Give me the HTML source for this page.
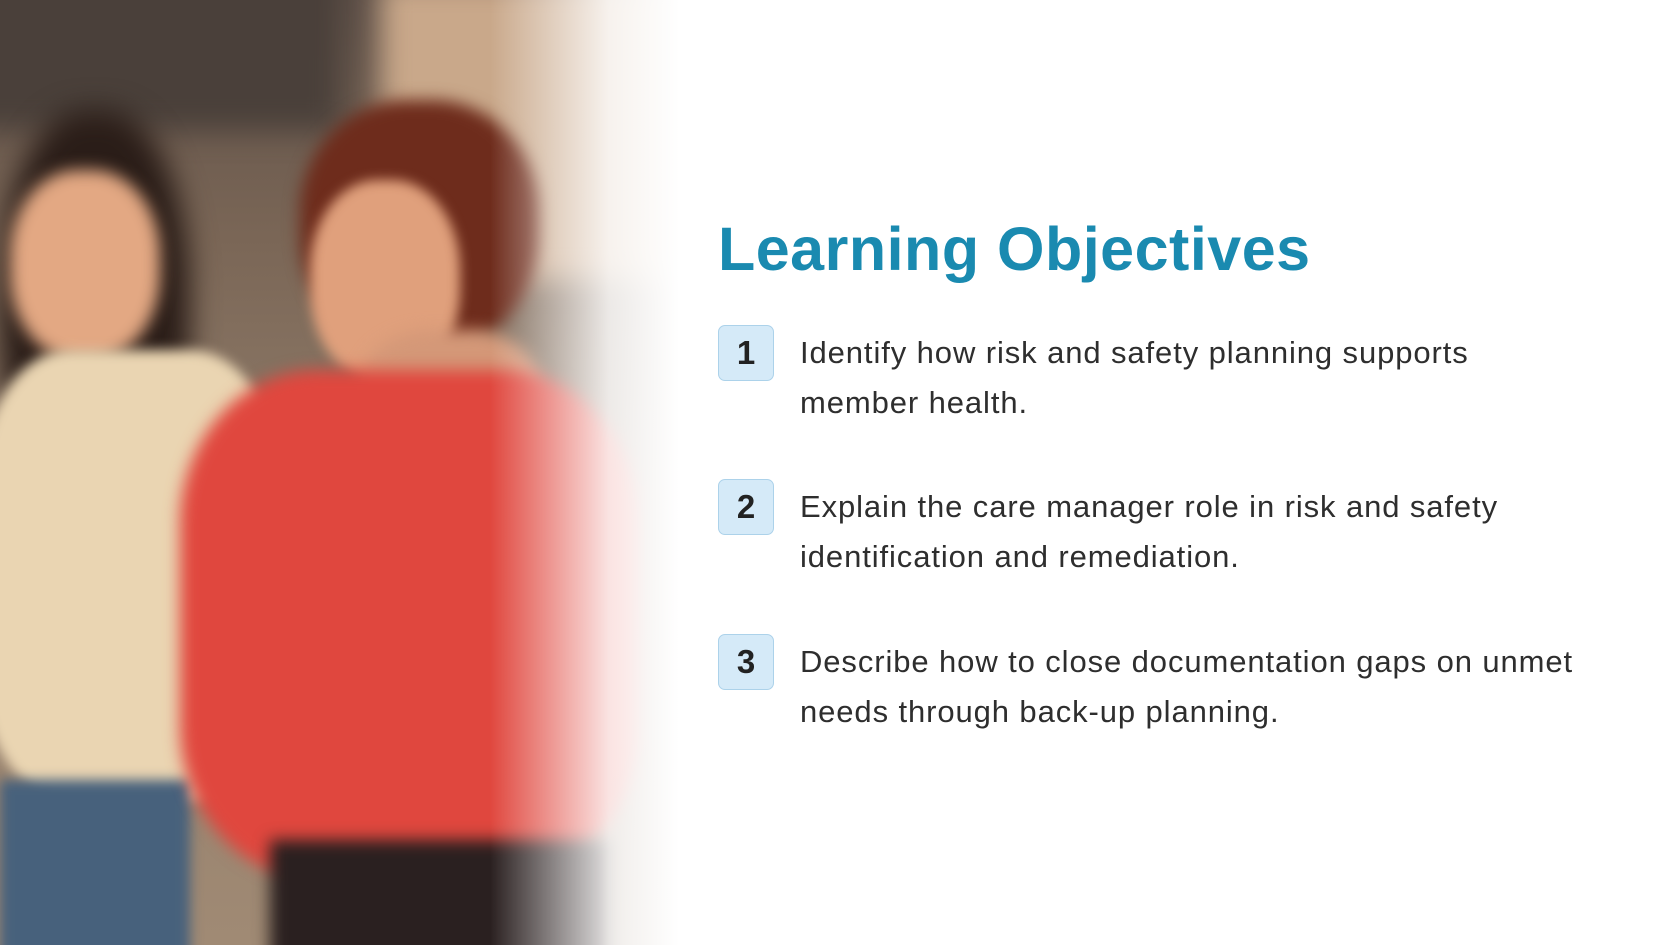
<!DOCTYPE html>
<html><head><meta charset="utf-8"><style>
html,body{margin:0;padding:0;width:1680px;height:945px;overflow:hidden;background:#fff;font-family:"Liberation Sans",sans-serif}
#photo{position:absolute;left:0;top:0;width:700px;height:945px;overflow:hidden;background:linear-gradient(180deg,#5e5048 0%,#7a6656 25%,#8e7a68 50%,#a08a74 100%)}
.b{position:absolute;filter:blur(14px)}
#fade{position:absolute;left:0;top:0;width:700px;height:945px;background:linear-gradient(90deg,rgba(255,255,255,0) 0%,rgba(255,255,255,0) 70%,rgba(255,255,255,.85) 87%,#fff 97%)}
h1{position:absolute;left:718px;top:214px;margin:0;font-size:61px;font-weight:bold;color:#1a8ab0;letter-spacing:0.5px}
.badge{position:absolute;left:718px;width:56px;height:56px;box-sizing:border-box;border:1.5px solid #acd2ea;background:#d5eaf8;border-radius:7px;font-size:33px;font-weight:bold;color:#222;text-align:center;line-height:54px}
.txt{position:absolute;left:800px;font-size:31px;line-height:50px;color:#2e2e2e;width:860px;letter-spacing:0.9px}
</style></head><body>
<div id="photo">
<div class="b" style="left:-40px;top:-40px;width:380px;height:170px;background:#4a403a"></div>
<div class="b" style="left:380px;top:-20px;width:300px;height:300px;background:#c9a88a"></div>
<div class="b" style="left:0;top:110px;width:190px;height:400px;background:#2a1d18;border-radius:45%"></div>
<div class="b" style="left:10px;top:170px;width:150px;height:190px;background:#e3a883;border-radius:45%;filter:blur(8px)"></div>
<div class="b" style="left:-20px;top:350px;width:300px;height:450px;background:#ead5b2;border-radius:30%;filter:blur(6px)"></div>
<div class="b" style="left:0;top:780px;width:190px;height:200px;background:#47617c;filter:blur(6px)"></div>
<div class="b" style="left:300px;top:100px;width:240px;height:250px;background:#6e2c1c;border-radius:45%;filter:blur(8px)"></div>
<div class="b" style="left:310px;top:180px;width:150px;height:200px;background:#e0a07c;border-radius:45%;filter:blur(6px)"></div>
<div class="b" style="left:360px;top:330px;width:180px;height:140px;background:#d49878;border-radius:40%;filter:blur(8px)"></div>
<div class="b" style="left:180px;top:370px;width:460px;height:510px;background:#e0473e;border-radius:30%;filter:blur(8px)"></div>
<div class="b" style="left:270px;top:840px;width:340px;height:140px;background:#2a2020;filter:blur(8px)"></div>
</div>
<div id="fade"></div>
<h1>Learning Objectives</h1>
<div class="badge" style="top:325px">1</div>
<div class="txt" style="top:328px">Identify how risk and safety planning supports<br>member health.</div>
<div class="badge" style="top:479px">2</div>
<div class="txt" style="top:482px">Explain the care manager role in risk and safety<br>identification and remediation.</div>
<div class="badge" style="top:634px">3</div>
<div class="txt" style="top:637px">Describe how to close documentation gaps on unmet<br>needs through back-up planning.</div>
</body></html>
